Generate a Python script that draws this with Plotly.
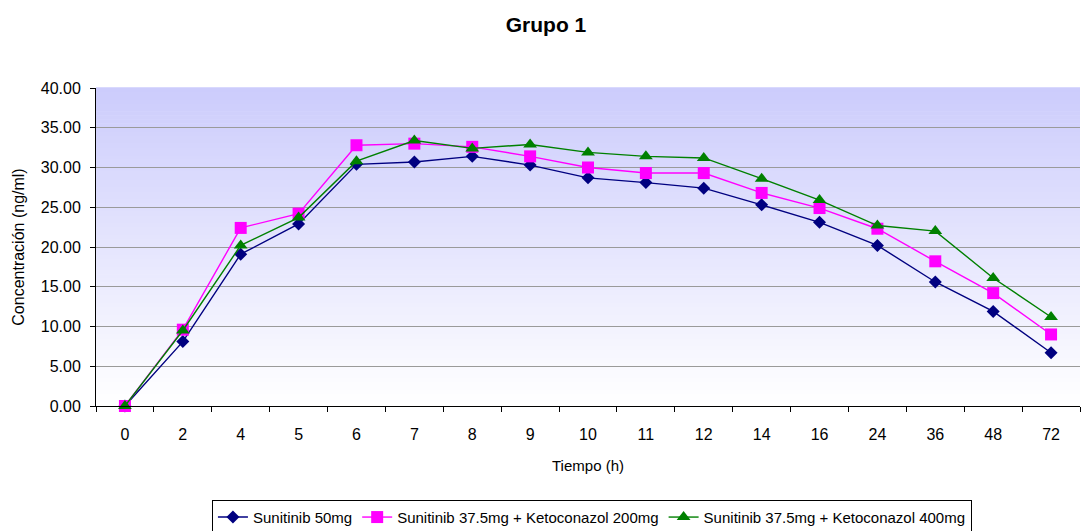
import plotly.graph_objects as go

# ---- data ----
tiempo = ["0", "2", "4", "5", "6", "7", "8", "9", "10", "11", "12", "14", "16", "24", "36", "48", "72"]
sunitinib_50 = [0.0, 8.1, 19.1, 22.9, 30.4, 30.7, 31.4, 30.3, 28.7, 28.1, 27.4, 25.3, 23.1, 20.2, 15.6, 11.9, 6.7]
suni_keto_200 = [0.0, 9.6, 22.4, 24.2, 32.8, 33.0, 32.6, 31.4, 30.0, 29.3, 29.3, 26.8, 24.9, 22.3, 18.2, 14.2, 9.0]
suni_keto_400 = [0.0, 9.5, 20.2, 23.7, 30.8, 33.4, 32.4, 32.9, 31.9, 31.4, 31.2, 28.6, 25.9, 22.7, 22.0, 16.1, 11.2]
series_names = ["Sunitinib 50mg", "Sunitinib 37.5mg + Ketoconazol 200mg", "Sunitinib 37.5mg + Ketoconazol 400mg"]
y_ticks = [0, 5, 10, 15, 20, 25, 30, 35, 40]

FONT = "Liberation Sans, Arial, sans-serif"

fig = go.Figure()
fig.add_trace(go.Scatter(x=tiempo, y=sunitinib_50, name=series_names[0], mode="lines+markers",
                         line=dict(color="#000080", width=1.4),
                         marker=dict(symbol="diamond", size=10, color="#000080"), cliponaxis=False))
fig.add_trace(go.Scatter(x=tiempo, y=suni_keto_200, name=series_names[1], mode="lines+markers",
                         line=dict(color="#ff00ff", width=1.4),
                         marker=dict(symbol="square", size=12, color="#ff00ff"), cliponaxis=False))
fig.add_trace(go.Scatter(x=tiempo, y=suni_keto_400, name=series_names[2], mode="lines+markers",
                         line=dict(color="#008000", width=1.4),
                         marker=dict(symbol="triangle-up", size=12, color="#008000"), cliponaxis=False))

# vertical gradient background (lavender at top -> white at bottom)
n = 80
top = (204, 204, 252)
for i in range(n):
    t = i / (n - 1)
    r = round(255 + (top[0] - 255) * t)
    g = round(255 + (top[1] - 255) * t)
    b = round(255 + (top[2] - 255) * t)
    fig.add_shape(type="rect", xref="x domain", yref="y domain",
                  x0=0, x1=1, y0=i / n, y1=(i + 1) / n + 0.002,
                  fillcolor=f"rgb({r},{g},{b})", line=dict(width=0), layer="below")

fig.update_layout(
    width=1092, height=531,
    margin=dict(l=96, r=12, t=88, b=125, autoexpand=False),
    paper_bgcolor="white", plot_bgcolor="white",
    font=dict(family=FONT, size=16, color="black"),
    title=dict(text="<b>Grupo 1</b>", x=0.5, xanchor="center", y=1 - 25 / 531, yanchor="middle",
               font=dict(size=21, family=FONT)),
    showlegend=True,
    legend=dict(orientation="h", x=0.504, xanchor="center", y=-0.295, yanchor="top",
                bordercolor="black", borderwidth=1, bgcolor="white",
                font=dict(size=15, family=FONT), tracegroupgap=0, itemwidth=30),
)
fig.update_xaxes(type="category", range=[-0.5, len(tiempo) - 0.5], tickson="boundaries",
                 ticks="outside", ticklen=5, tickcolor="black",
                 showline=True, linecolor="black", linewidth=1, showgrid=False,
                 tickfont=dict(size=16), ticklabelstandoff=14,
                 title=dict(text="Tiempo (h)", font=dict(size=15), standoff=18))
fig.update_yaxes(range=[0, 40], tickvals=y_ticks, tickformat=".2f", ticks="outside", ticklen=5,
                 tickcolor="black", showline=True, linecolor="black", linewidth=1,
                 showgrid=True, gridcolor="#9a9a9a", gridwidth=1, zeroline=False,
                 tickfont=dict(size=16), ticklabelstandoff=6,
                 title=dict(text="Concentración (ng/ml)", font=dict(size=16), standoff=12))

fig.write_html("out.html", config={"displayModeBar": False},
               post_script="document.body.style.margin='0';")
